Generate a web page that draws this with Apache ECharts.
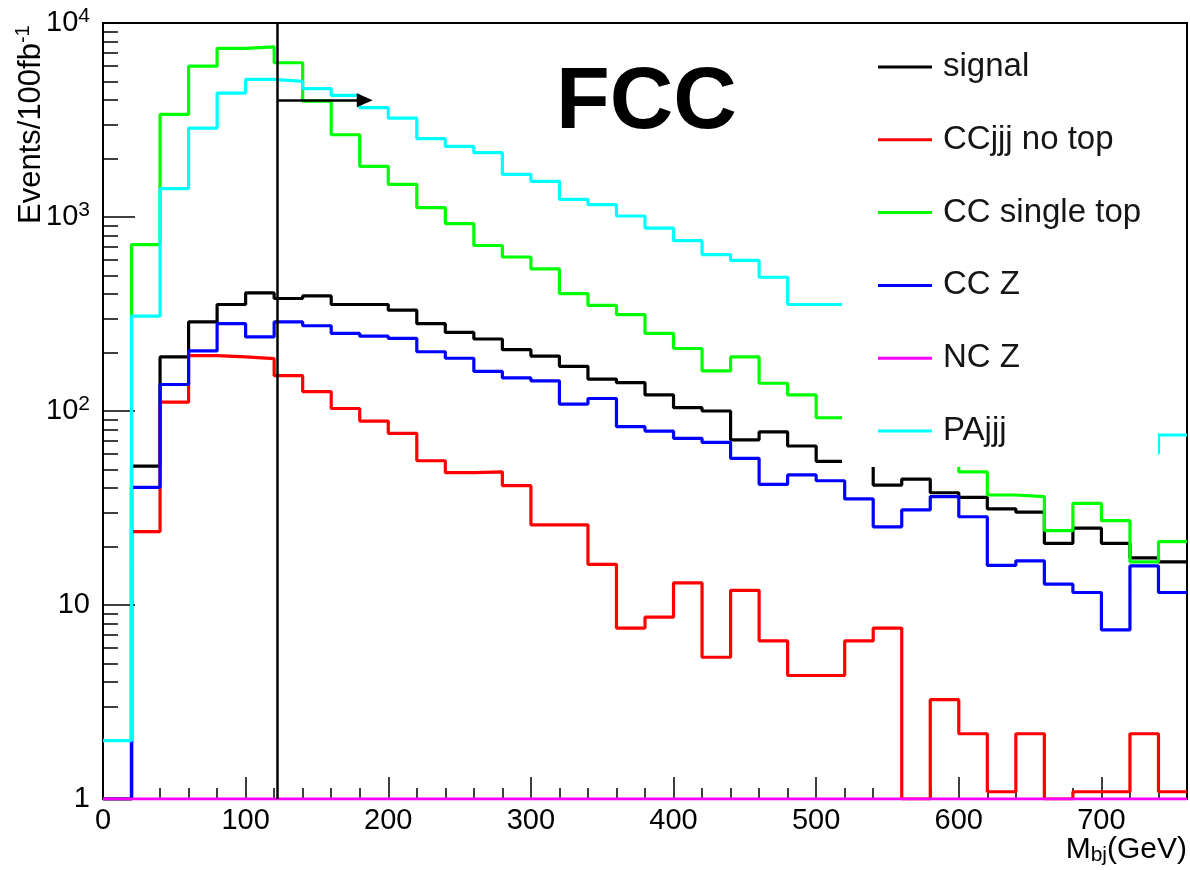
<!DOCTYPE html>
<html><head><meta charset="utf-8">
<script src="https://cdn.jsdelivr.net/npm/echarts@6/dist/echarts.min.js"></script>
<style>html,body{margin:0;padding:0;background:#fff}#chart{width:1190px;height:870px}</style>
</head><body><div id="chart"></div>
<script>
// bin edges (GeV), 20 GeV bins
const binEdges = [0,20,40,60,80,100,120,140,160,180,200,220,240,260,280,300,320,340,360,380,400,420,440,460,480,500,520,540,560,580,600,620,640,660,680,700,720,740,760];
const seriesNames = ['signal','CCjjj no top','CC single top','CC Z','NC Z','PAjjj'];
const seriesColors = ['#000000','#ff0000','#00ff00','#0000ff','#ff00ff','#00ffff'];
// events per bin (null = hidden behind the legend box)
const signal      = [1,52,190,288,354,406,380,392,354,354,331,282,254,235,207,192,170,146,140,121,104,100,71,78,66,55,55,41.5,44.6,37.9,35.9,31.3,30.1,20.8,24.9,20.8,17.5,16.7];
const ccjjjNoTop  = [1,23.9,111,193,190,186,152,126,103,88.7,76.7,55.4,48.1,48.6,41.2,25.9,25.9,16.2,7.6,8.65,13.0,5.38,11.9,6.53,4.33,4.33,6.53,7.6,1,3.25,2.17,1.09,2.17,1,1.09,1.09,2.17,1.09];
const ccSingleTop = [1,721,3380,5990,7400,7540,6240,3955,2655,1824,1473,1118,925,713,622,540,403,350,314,251,210,161,190,139,121,92.3,null,null,null,58,48.6,36.9,36.2,24.2,33.4,27.2,16.7,21.2];
const ccZ         = [1,40.4,137,204,282,241,288,275,251,243,237,202,187,160,148,143,108.6,116,83,78.8,72.3,68.9,57.0,41.9,46.8,43.7,35.2,25.3,30.9,36.2,28.5,16.0,16.9,12.8,11.6,7.44,15.9,11.6];
const ncZ         = [1,1,1,1,1,1,1,1,1,1,1,1,1,1,1,1,1,1,1,1,1,1,1,1,1,1,1,1,1,1,1,1,1,1,1,1,1,1];
const paJJJ       = [2.0,308,1400,2872,4355,5120,5000,4585,4235,3660,3230,2535,2312,2145,1660,1527,1233,1158,1012,877,755,640,597,489,354,354,null,null,null,null,null,null,null,null,null,null,60.7,75.2];
const seriesValues = [signal, ccjjjNoTop, ccSingleTop, ccZ, ncZ, paJJJ];
// tick positions
const xMajorTicks = [0,100,200,300,400,500,600,700];
const xMinorTicks = [20,40,60,80,120,140,160,180,220,240,260,280,320,340,360,380,420,440,460,480,520,540,560,580,620,640,660,680,720,740];
const yMinorTicks = [2,3,4,5,6,7,8,9,20,30,40,50,60,70,80,90,200,300,400,500,600,700,800,900,2000,3000,4000,5000,6000,7000,8000,9000];
// cut line and arrow
const cutPosition = [122];
const cutArrow = [[122,4000],[183.5,4000]];

const FONT = '"Liberation Sans", Arial, Helvetica, sans-serif';

function histPoints(vals) {
  const pts = [];
  vals.forEach((v, i) => {
    const y = (v === null) ? '-' : v;
    pts.push([binEdges[i], y]);
    pts.push([binEdges[i + 1], y]);
  });
  return pts;
}

const series = seriesNames.map((name, k) => ({
  name: name,
  type: 'line',
  color: seriesColors[k],
  data: histPoints(seriesValues[k]),
  showSymbol: false,
  symbol: 'none',
  lineStyle: { width: 3.2, color: seriesColors[k] },
  connectNulls: false,
  animation: false,
  silent: true
}));

series.push({
  name: 'cut',
  type: 'line',
  data: [],
  animation: false,
  silent: true,
  z: 5,
  markLine: {
    silent: true,
    animation: false,
    symbol: ['none', 'none'],
    label: { show: false },
    lineStyle: { color: '#000', width: 2.5, type: 'solid' },
    data: [
      { xAxis: cutPosition[0] },
      [ { coord: cutArrow[0], symbol: 'none' },
        { coord: cutArrow[1], symbol: 'triangle', symbolSize: [14, 16] } ]
    ]
  }
});

const supRich = { sup: { fontSize: 21, fontFamily: FONT, color: '#000', padding: [0, 0, 14, 0] } };

const option = {
  backgroundColor: '#fff',
  animation: false,
  grid: { left: 103, top: 23, right: 3, bottom: 71, show: true, borderColor: '#000', borderWidth: 2, backgroundColor: 'transparent' },
  xAxis: [
    { type: 'value', min: 0, max: 760, interval: 100, position: 'bottom',
      axisLine: { show: true, lineStyle: { color: '#000', width: 2 } },
      axisTick: { show: true, inside: true, length: 22, customValues: xMajorTicks, lineStyle: { color: '#000', width: 1.5 } },
      axisLabel: { show: true, customValues: xMajorTicks, margin: 7, fontSize: 29, fontFamily: FONT, color: '#000' },
      splitLine: { show: false } },
    { type: 'value', min: 0, max: 760, interval: 100, position: 'bottom',
      axisLine: { show: false },
      axisTick: { show: true, inside: true, length: 11, customValues: xMinorTicks, lineStyle: { color: '#000', width: 1.5 } },
      axisLabel: { show: false },
      splitLine: { show: false } }
  ],
  yAxis: [
    { type: 'log', logBase: 10, min: 1, max: 10000, position: 'left',
      axisLine: { show: true, lineStyle: { color: '#000', width: 2 } },
      axisTick: { show: true, inside: true, length: 32, lineStyle: { color: '#000', width: 1.5 } },
      axisLabel: { show: true, margin: 13, fontSize: 29, fontFamily: FONT, color: '#000',
        formatter: function (v) {
          const e = Math.round(Math.log10(v));
          if (e === 0) return '1';
          if (e === 1) return '10';
          return '10{sup|' + e + '}';
        },
        rich: supRich },
      splitLine: { show: false } },
    { type: 'log', logBase: 10, min: 1, max: 10000, position: 'left',
      axisLine: { show: false },
      axisTick: { show: true, inside: true, length: 15, customValues: yMinorTicks, lineStyle: { color: '#000', width: 1.5 } },
      axisLabel: { show: false },
      splitLine: { show: false } }
  ],
  legend: {
    data: seriesNames, orient: 'vertical', left: 878, top: 50.5, padding: 0,
    itemWidth: 54, itemHeight: 3, icon: 'rect', itemGap: 39.8,
    selectedMode: false, z: 20,
    textStyle: { fontFamily: FONT, fontSize: 33, color: '#151515', lineHeight: 30, padding: [0, 0, 0, 6] }
  },
  graphic: [
    { type: 'rect', z: 10, silent: true, shape: { x: 842, y: 25, width: 316, height: 442 }, style: { fill: '#fff' } },
    { type: 'text', z: 20, silent: true, x: 556, y: 104,
      style: { text: 'FCC', fontFamily: FONT, fontWeight: 'bold', fontSize: 88, fill: '#000', align: 'left', verticalAlign: 'middle' } },
    { type: 'text', z: 20, silent: true, x: 31, y: 224, rotation: Math.PI / 2,
      style: { text: 'Events/100fb{sup|-1}', fontFamily: FONT, fontSize: 31, fill: '#000', align: 'left', verticalAlign: 'middle',
        rich: { sup: { fontSize: 20, fontFamily: FONT, fill: '#000', padding: [0, 0, 16, 0] } } } },
    { type: 'text', z: 20, silent: true, x: 1187, y: 850,
      style: { text: 'M{sub|bj}(GeV)', fontFamily: FONT, fontSize: 30, fill: '#000', align: 'right', verticalAlign: 'middle',
        rich: { sub: { fontSize: 21, fontFamily: FONT, fill: '#000', padding: [11, 0, 0, 0] } } } }
  ],
  series: series
};

const chart = echarts.init(document.getElementById('chart'), null, { renderer: 'canvas' });
chart.setOption(option);
</script>
</body></html>
